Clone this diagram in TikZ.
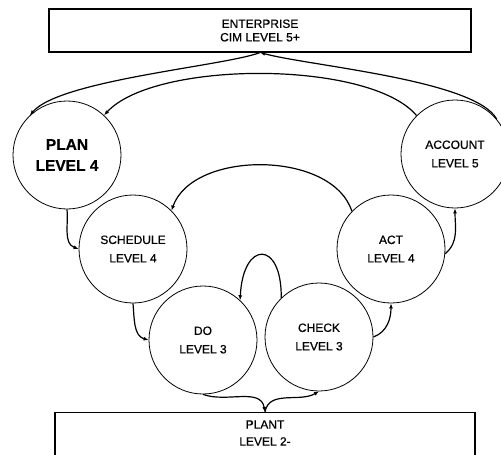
\documentclass[tikz,border=0pt]{standalone}
\usepackage{fontspec}
\setmainfont{Liberation Sans}[FakeBold=0.6]
\usetikzlibrary{arrows.meta}

\begin{document}
\begin{tikzpicture}[x=1pt,y=1pt,
    level/.style={circle,draw,line width=0.8pt,minimum size=108pt,inner sep=0pt,
        align=center,font=\fontsize{12}{18.5}\selectfont},
    tier/.style={draw,line width=1.1pt,inner sep=0pt},
    flow/.style={line width=1.2pt,-{Latex[length=5pt,width=4pt]}}]
\useasboundingbox (0,0) rectangle (501,-455);
% top and bottom layers
\node[tier,minimum width=422pt,minimum height=43pt,align=center,
    font=\fontsize{12}{13.5}\selectfont] (ent) at (260,-30.5) {ENTERPRISE\\CIM LEVEL 5+};
\node[tier,minimum width=420pt,minimum height=60pt,anchor=north] (plant) at (265,-412) {};
\node[align=center,inner sep=0pt,font=\fontsize{12}{17}\selectfont] (plantlbl) at (265,-433) {PLANT\\LEVEL 2-};
% the cycle
\node[level,font=\bfseries\fontsize{15.5}{21}\selectfont] (plan) at (67,-155) {PLAN\\LEVEL 4};
\foreach \name/\x/\y/\word/\lvl in {sched/133/249/SCHEDULE/4, do/203/340/DO/3,
    check/319/337/CHECK/3, act/391/249/ACT/4, acct/455/154/ACCOUNT/5} {
    \node[level] (\name) at (\x,-\y) {\word\\LEVEL \lvl};
}
\draw[flow] (ent.south) .. controls (225,-66) and (60,-80) .. (plan.133);
\draw[flow] (acct.40) .. controls (475,-80) and (310,-66) .. (ent.south);
\draw[flow] (acct.135) .. controls (370,-60) and (155,-60) .. (plan.47);
\draw[flow] (plan.south) to[out=-85,in=160] (sched.west);
\draw[flow] (sched.south) to[out=-85,in=165] (do.west);
\draw[flow] (act.136) .. controls (332,-150) and (193,-150) .. (sched.45);
\draw[flow] (check.134) .. controls (282,-240) and (243,-240) .. (do.47);
\draw[flow] (do.south) to[out=-20,in=100] (plant.north);
\draw[flow] (plant.north) to[out=80,in=-150] (check.south);
\draw[flow] (check.east) to[out=20,in=-90] (act.south);
\draw[flow] (act.-5) to[out=40,in=-90] (acct.south);
\end{tikzpicture}
\end{document}
